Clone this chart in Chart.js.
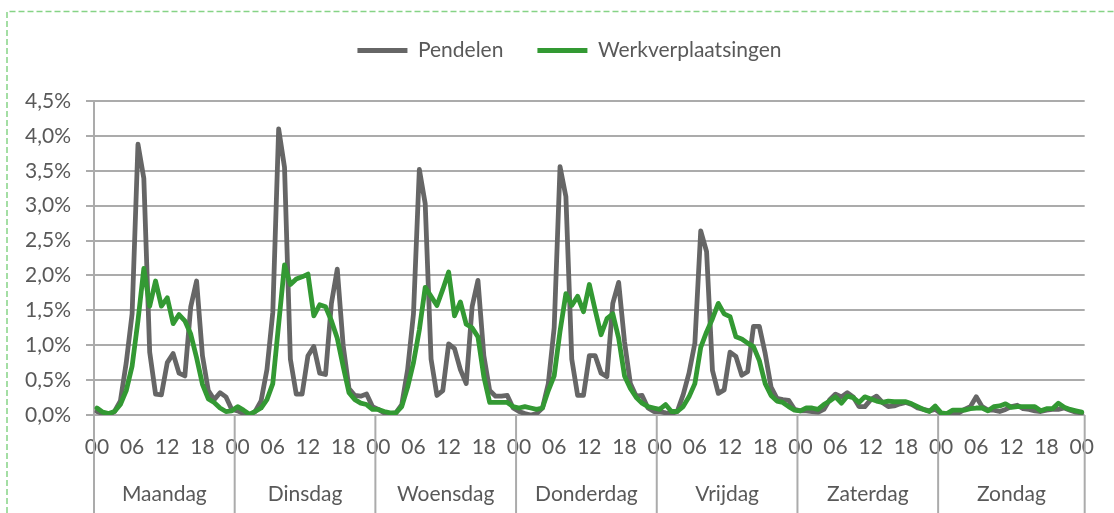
<!DOCTYPE html>
<html>
<head>
<meta charset="utf-8">
<script src="https://cdn.jsdelivr.net/npm/chart.js@4.4.1/dist/chart.umd.min.js"></script>
<style>
  html, body { margin: 0; padding: 0; background: #fff; }
  #wrap { width: 1114px; height: 513px; }
</style>
</head>
<body>
<div id="wrap"><canvas id="chart" width="1114" height="513"></canvas></div>
<script>
// --- data ---
const days = ["Maandag", "Dinsdag", "Woensdag", "Donderdag", "Vrijdag", "Zaterdag", "Zondag"];

// uur-labels: 00..23 per dag, plus de slot-00 van zondag
const hourLabels = [];
for (let d = 0; d < 7; d++) for (let h = 0; h < 24; h++) hourLabels.push(String(h).padStart(2, "0"));
hourLabels.push("00");

// aandeel per uur (%)
const pendelen = [
  0.05, 0.02, 0.00, 0.05, 0.20, 0.75, 1.45, 3.88, 3.39, 0.90, 0.30, 0.29, 0.75, 0.88, 0.60, 0.56, 1.55, 1.92, 0.85, 0.35, 0.22, 0.32, 0.26, 0.08,
  0.06, 0.02, 0.00, 0.05, 0.20, 0.65, 1.47, 4.10, 3.55, 0.80, 0.30, 0.30, 0.85, 0.98, 0.60, 0.58, 1.60, 2.09, 1.00, 0.38, 0.28, 0.27, 0.30, 0.12,
  0.08, 0.03, 0.02, 0.03, 0.15, 0.65, 1.45, 3.52, 3.03, 0.80, 0.28, 0.35, 1.02, 0.95, 0.65, 0.45, 1.55, 1.93, 0.85, 0.35, 0.27, 0.27, 0.28, 0.10,
  0.05, 0.02, 0.00, 0.02, 0.10, 0.45, 1.25, 3.56, 3.13, 0.80, 0.28, 0.28, 0.85, 0.85, 0.60, 0.55, 1.60, 1.90, 1.05, 0.45, 0.27, 0.28, 0.10, 0.05,
  0.05, 0.03, 0.02, 0.05, 0.29, 0.60, 1.03, 2.64, 2.34, 0.64, 0.31, 0.36, 0.90, 0.84, 0.57, 0.62, 1.27, 1.27, 0.88, 0.40, 0.24, 0.22, 0.21, 0.08,
  0.06, 0.06, 0.05, 0.04, 0.08, 0.22, 0.30, 0.26, 0.32, 0.26, 0.12, 0.12, 0.22, 0.27, 0.18, 0.12, 0.13, 0.16, 0.18, 0.15, 0.10, 0.08, 0.06, 0.08,
  0.02, 0.01, 0.02, 0.03, 0.08, 0.12, 0.26, 0.12, 0.07, 0.07, 0.05, 0.08, 0.12, 0.14, 0.09, 0.08, 0.06, 0.05, 0.07, 0.08, 0.08, 0.10, 0.07, 0.04,
  0.03
];
const werkverplaatsingen = [
  0.10, 0.04, 0.02, 0.05, 0.15, 0.35, 0.70, 1.35, 2.10, 1.56, 1.92, 1.56, 1.68, 1.31, 1.44, 1.35, 1.16, 0.82, 0.44, 0.23, 0.18, 0.10, 0.05, 0.06,
  0.12, 0.07, 0.01, 0.05, 0.10, 0.22, 0.45, 1.30, 2.15, 1.87, 1.95, 1.98, 2.02, 1.42, 1.58, 1.55, 1.35, 1.10, 0.70, 0.32, 0.22, 0.17, 0.15, 0.08,
  0.08, 0.05, 0.03, 0.03, 0.12, 0.40, 0.75, 1.22, 1.83, 1.70, 1.57, 1.80, 2.05, 1.42, 1.62, 1.30, 1.25, 1.12, 0.55, 0.18, 0.18, 0.18, 0.18, 0.12,
  0.10, 0.12, 0.10, 0.08, 0.10, 0.35, 0.56, 1.20, 1.74, 1.57, 1.70, 1.48, 1.87, 1.50, 1.15, 1.38, 1.45, 1.10, 0.56, 0.38, 0.25, 0.17, 0.12, 0.10,
  0.08, 0.15, 0.05, 0.05, 0.12, 0.26, 0.45, 0.97, 1.19, 1.38, 1.60, 1.45, 1.41, 1.12, 1.09, 1.03, 0.98, 0.78, 0.45, 0.28, 0.20, 0.18, 0.12, 0.07,
  0.06, 0.10, 0.10, 0.08, 0.15, 0.20, 0.26, 0.17, 0.27, 0.25, 0.18, 0.26, 0.23, 0.20, 0.18, 0.20, 0.19, 0.19, 0.19, 0.16, 0.12, 0.08, 0.05, 0.13,
  0.03, 0.02, 0.07, 0.07, 0.07, 0.09, 0.10, 0.10, 0.06, 0.12, 0.13, 0.16, 0.11, 0.12, 0.12, 0.12, 0.12, 0.06, 0.09, 0.09, 0.17, 0.11, 0.08, 0.06,
  0.04
];

// --- stijl ---
const textColor = "#595959";
const gridColor = "#ababab";
const FONT = "Lato";

Chart.defaults.font.family = FONT;
Chart.defaults.font.size = 21;
Chart.defaults.color = textColor;

// groene stippellijn rond de grafiek
const framePlugin = {
  id: "frame",
  beforeDraw(chart) {
    const ctx = chart.ctx;
    ctx.save();
    ctx.fillStyle = "#fff";
    ctx.fillRect(0, 0, chart.width, chart.height);
    ctx.strokeStyle = "#86d386";
    ctx.lineWidth = 1.5;
    ctx.setLineDash([6, 3]);
    ctx.beginPath();
    ctx.moveTo(7, chart.height);
    ctx.lineTo(7, 11.5);
    ctx.lineTo(chart.width, 11.5);
    ctx.stroke();
    ctx.restore();
  }
};

// ruimte onder de legenda
const legendGap = {
  id: "legendGap",
  beforeLayout(chart) {
    const lg = chart.legend;
    if (!lg || lg._gapPatched) return;
    const fit = lg.fit;
    lg.fit = function () { fit.call(this); this.height += 30; };
    lg._gapPatched = true;
  },
  afterLayout(chart) {
    chart.legend.left += 18;
    chart.legend.right += 18;
  }
};

// dagen onder de as + scheidingslijnen
const dayAxis = {
  id: "dayAxis",
  afterDraw(chart) {
    const x = chart.scales.x;
    const ctx = chart.ctx;
    const w = x.getPixelForValue(1) - x.getPixelForValue(0);
    const edges = days.map((d, i) => x.getPixelForValue(i * 24) - w / 2);
    edges.push(x.right);
    ctx.save();
    ctx.strokeStyle = gridColor;
    ctx.lineWidth = 2;
    edges.forEach(e => {
      ctx.beginPath();
      ctx.moveTo(e, chart.chartArea.bottom);
      ctx.lineTo(e, chart.height);
      ctx.stroke();
    });
    ctx.fillStyle = textColor;
    ctx.font = "21px " + FONT;
    ctx.textAlign = "center";
    ctx.textBaseline = "alphabetic";
    days.forEach((d, i) => ctx.fillText(d, (edges[i] + edges[i + 1]) / 2, 501));
    ctx.restore();
  }
};

new Chart(document.getElementById("chart"), {
  type: "line",
  data: {
    labels: hourLabels,
    datasets: [
      { label: "Pendelen", data: pendelen, borderColor: "#666666", backgroundColor: "#666666",
        borderWidth: 4.8, pointRadius: 0, tension: 0, borderCapStyle: "round", borderJoinStyle: "round", order: 1 },
      { label: "Werkverplaatsingen", data: werkverplaatsingen, borderColor: "#339933", backgroundColor: "#339933",
        borderWidth: 4.8, pointRadius: 0, tension: 0, borderCapStyle: "round", borderJoinStyle: "round", order: 0 }
    ]
  },
  options: {
    responsive: false,
    animation: false,
    layout: { padding: { top: 6, left: 10, right: 21, bottom: 0 } },
    plugins: {
      legend: {
        position: "top",
        labels: {
          usePointStyle: true, pointStyle: "line", pointStyleWidth: 50,
          padding: 34, color: textColor, font: { size: 21 },
          sort: (a, b) => a.datasetIndex - b.datasetIndex
        }
      },
      tooltip: { enabled: false }
    },
    scales: {
      x: {
        type: "category",
        offset: true,
        grid: { display: false, drawTicks: false },
        border: { display: false },
        ticks: {
          autoSkip: false, minRotation: 0, maxRotation: 0, padding: 20, color: textColor,
          callback(v, i) { return i % 6 === 0 ? this.getLabelForValue(v) : ""; }
        },
        afterFit(s) { s.height = 98; }
      },
      y: {
        min: 0, max: 4.5,
        grid: { color: gridColor, lineWidth: 2, drawTicks: true, tickLength: 8, tickColor: gridColor },
        border: { display: true, color: gridColor, width: 2 },
        ticks: {
          stepSize: 0.5, padding: 15, color: textColor,
          callback: v => v.toFixed(1).replace(".", ",") + "%"
        },
        afterFit(s) { s.width = 84; }
      }
    }
  },
  plugins: [framePlugin, legendGap, dayAxis]
});
</script>
</body>
</html>
